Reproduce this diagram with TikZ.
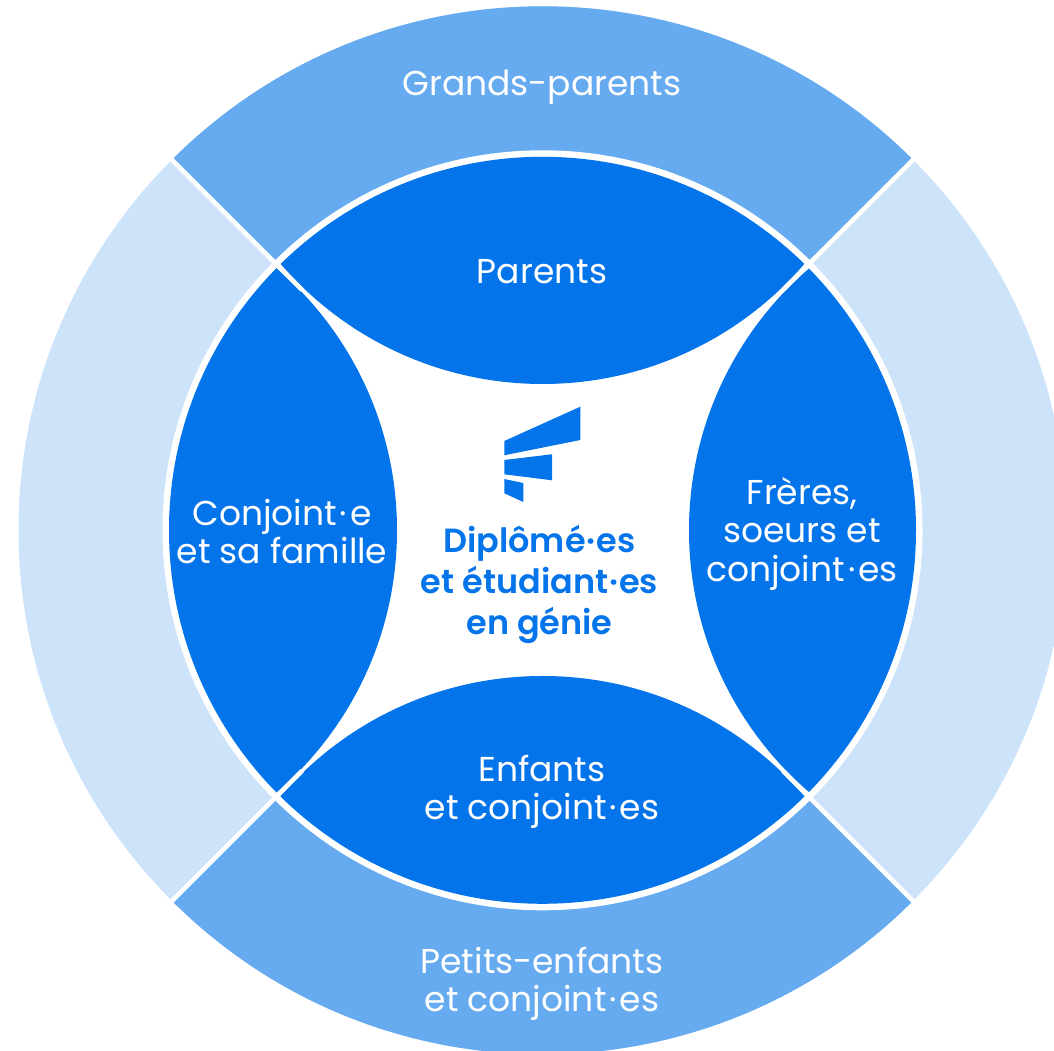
\documentclass[tikz,border=0pt]{standalone}
\usepackage{fontspec}
\setmainfont{Poppins}[BoldFont={* SemiBold}]
\definecolor{deep}{HTML}{0474EB}
\definecolor{mid}{HTML}{66ABF0}
\definecolor{pale}{HTML}{CDE3FA}
\newcommand{\pdot}[1]{\kern#1pt·\kern#1pt}
\tikzset{
  lbl/.style={text=white,font=\fontsize{34.5}{38.5}\selectfont,align=center,inner sep=0pt},
  core/.style={text=deep,font=\fontsize{33.5}{41}\selectfont\bfseries,align=center,inner sep=0pt},
  gap/.style={draw=white,line width=4.6pt}
}
\begin{document}
\begin{tikzpicture}[x=1pt,y=1pt]
\useasboundingbox (0,0) rectangle (1054,1051);
\clip (0,0) rectangle (1054,1051);
\coordinate (c) at (542.5,520.7);
% outer ring
\fill[pale] (c) circle[radius=524];
\fill[mid] (c) -- ++(45:524) arc[start angle=45,end angle=135,radius=524] -- cycle;
\fill[mid] (c) -- ++(225:524) arc[start angle=225,end angle=315,radius=524] -- cycle;
\fill[white] (c) circle[radius=380];
% inner lenses
\begin{scope}
\clip (c) circle[radius=373.5];
\fill[deep] (542.5,1012.6) circle[radius=345.6];
\fill[deep] (542.5,29.4) circle[radius=345.6];
\fill[deep] (51.4,520.7) circle[radius=345.6];
\fill[deep] (1034.6,520.7) circle[radius=345.6];
\end{scope}
% white separators
\draw[gap] (c) ++(45:340) -- ++(45:200);
\draw[gap] (c) ++(135:340) -- ++(135:200);
\draw[gap] (c) ++(225:340) -- ++(225:200);
\draw[gap] (c) ++(315:340) -- ++(315:200);
% logo
\fill[deep] (504.3,610) -- (580.3,644.3) -- (580.3,611) -- (504.3,595.7) -- cycle;
\fill[deep] (504.3,591) -- (552,596.7) -- (552,570.7) -- (504.3,576.7) -- cycle;
\fill[deep] (504.3,572) -- (523.3,568) -- (523.3,549) -- (504.3,557.7) -- cycle;
% labels
\node[lbl] (gp) at (542,964) {Grands-parents};
\node[lbl] (par) at (542,779) {Parents};
\node[lbl] (conj) at (282,519.5) {Conjoint\pdot{3}e\\et sa famille};
\node[lbl] (fr) at (802,517) {Frères,\\soeurs et\\conjoint\pdot{3}es};
\node[lbl] (enf) at (542,259) {Enfants\\et conjoint\pdot{3}es};
\node[lbl] (pe) at (542,67) {Petits-enfants\\et conjoint\pdot{3}es};
\node[core] (dip) at (539.5,467) {Diplômé\pdot{1}es\\et étudiant\pdot{1}es\\en génie};
\end{tikzpicture}
\end{document}
